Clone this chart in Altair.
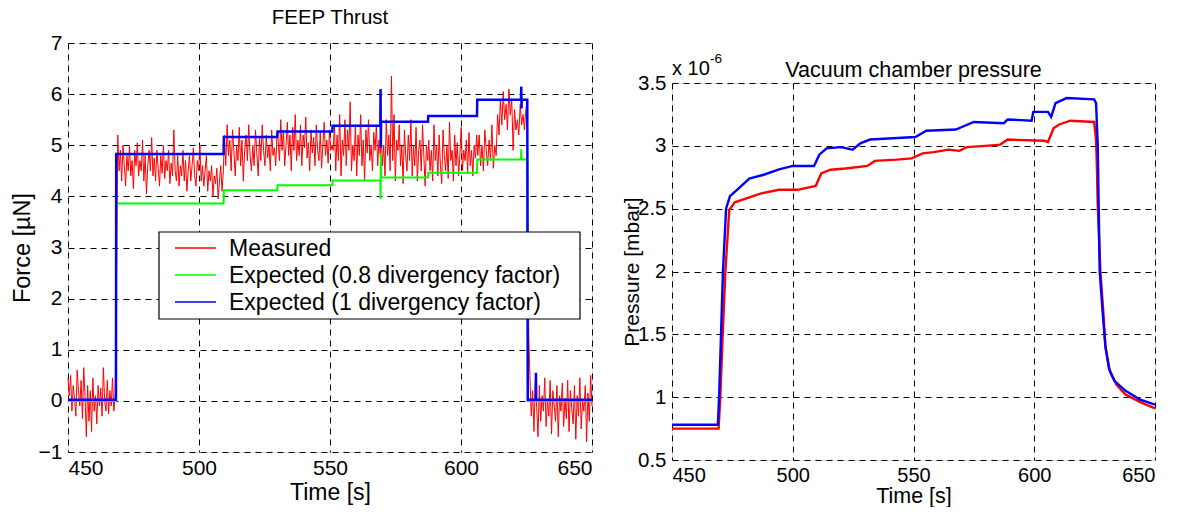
import altair as alt
import numpy as np
import pandas as pd

FONT = "Liberation Sans"

# ---------------- Left panel: FEEP thrust ----------------
thrust_x_ticks = [450, 500, 550, 600, 650]
thrust_y_ticks = [-1, 0, 1, 2, 3, 4, 5, 6, 7]

measured_pre = [0.45, 0.1, 0.5, -0.2, 0.3, 0.05, -0.3, 0.6, 0.2, -0.1, 0.4, -0.35, 0.65, 0.1,
                -0.7, 0.3, -0.4, 0.2, -0.6, 0.45, -0.2, 0.1, -0.45, 0.3, -0.1, 0.25, -0.3, 0.65,
                0.0, -0.2, 0.4, -0.25, 0.2, -0.1, 0.45, -0.2, 0.1]
measured_seg1 = [2.4, 5.2, 4.5, 4.9, 4.3, 5.0, 4.6, 4.2, 4.8, 4.5, 5.0, 4.4, 4.7, 4.15, 4.9, 4.6,
                 5.05, 4.4, 4.7, 4.5, 5.1, 4.3, 4.8, 4.05, 4.6, 4.9, 4.5, 5.15, 4.4, 4.75, 4.3, 4.9,
                 4.55, 4.2, 4.8, 4.45, 5.0, 4.35, 4.7, 4.5, 4.9, 4.25, 4.65, 4.4, 5.3, 4.5, 4.3, 4.8,
                 4.2, 4.6, 4.4, 4.9, 4.3, 4.7, 4.1, 4.5, 4.8, 4.3, 4.6, 4.95, 4.4, 4.2, 4.7, 4.5,
                 5.0, 4.3, 4.6, 4.2, 4.5, 4.8, 4.1, 4.5, 4.3, 4.6, 4.0, 4.4, 4.25, 4.55, 3.95, 4.3,
                 4.6, 4.1, 4.5]
measured_seg2 = [5.2, 4.6, 5.4, 4.8, 5.1, 4.5, 5.3, 4.9, 4.4, 5.0, 4.7, 5.35, 4.6, 5.1, 4.3, 4.9,
                 5.2, 4.7, 5.4, 4.8, 4.5, 5.0, 4.6, 5.3, 4.85, 4.4, 5.15, 4.7, 5.4, 4.9, 4.6, 5.2,
                 4.75, 5.0, 4.5, 5.3, 4.8, 4.95, 4.6, 5.25]
measured_seg3 = [5.1, 4.7, 5.5, 4.9, 5.3, 4.6, 5.0, 5.45, 4.8, 5.2, 4.5, 5.35, 4.9, 5.6, 4.7, 5.1,
                 4.8, 5.4, 4.6, 5.2, 4.95, 5.55, 4.75, 5.05, 4.5, 5.3, 4.85, 5.15, 4.6, 5.4, 4.9,
                 4.7, 5.25, 4.55, 5.0, 5.45, 4.8, 5.1, 4.65, 5.3, 4.9, 5.0]
measured_seg4 = [4.9, 5.4, 4.5, 5.2, 4.7, 5.6, 4.4, 5.1, 4.8, 5.5, 4.6, 5.3, 4.9, 5.85, 4.5, 5.0,
                 4.7, 5.4, 4.4, 5.2, 4.8, 5.6, 4.6, 5.1, 4.3, 5.3, 4.85, 5.5, 4.7, 5.0, 4.5, 5.25,
                 4.9, 5.4, 4.6, 5.1, 4.8]
measured_seg5 = [5.3, 4.6, 5.0, 4.4, 5.5, 4.8, 5.2, 4.5, 6.35, 4.7, 5.6, 4.3, 5.1, 4.9, 5.4, 4.6,
                 5.0, 4.25, 5.3, 4.8, 4.5, 5.2, 4.7, 5.5, 4.4, 5.0, 4.6, 5.35, 4.3, 4.9, 5.1, 4.5,
                 5.4, 4.8, 4.2, 5.0, 4.7]
measured_seg6 = [5.1, 4.5, 4.9, 4.3, 5.4, 4.7, 5.0, 4.4, 5.2, 4.6, 4.25, 5.3, 4.8, 4.5, 5.0, 4.35,
                 5.45, 4.7, 4.9, 4.3, 5.2, 4.6, 5.05, 4.4, 4.8, 5.35, 4.5, 4.9, 4.7, 5.1, 4.45, 5.25,
                 4.6, 4.9, 4.4, 5.0, 4.75, 5.2]
measured_seg7 = [4.8, 5.2, 4.6, 5.0, 4.5, 5.3, 4.9, 4.6, 5.1, 4.7, 5.4, 4.55, 5.0, 4.8, 5.6, 5.2,
                 5.9, 5.4, 6.05, 5.5, 5.8, 5.3, 6.1, 5.6, 5.9, 4.9, 5.7, 5.3, 5.5, 5.2, 5.8, 5.4,
                 5.6, 5.3, 5.7, 5.9]
measured_drop = [3.0, 1.2]
measured_post = [0.5, -0.3, 0.2, -0.6, 0.35, -0.1, -0.7, 0.3, -0.4, 0.1, -0.2, 0.45, -0.5, 0.0,
                 -0.3, 0.4, -0.65, 0.2, -0.1, -0.4, 0.3, -0.7, 0.1, -0.2, 0.35, -0.5, 0.05, -0.35,
                 0.4, -0.6, 0.2, -0.15, -0.45, 0.3, -0.75, 0.1, -0.3, 0.45, -0.55, 0.0, -0.2, 0.3,
                 -0.8, 0.15, -0.4, 0.5, -0.1]
measured_segments = [
    (450.0, 468.0, measured_pre),
    (468.5, 509.3, measured_seg1),
    (509.7, 529.8, measured_seg2),
    (530.2, 550.8, measured_seg3),
    (551.2, 569.2, measured_seg4),
    (569.5, 587.3, measured_seg5),
    (587.7, 606.0, measured_seg6),
    (606.4, 625.3, measured_seg7),
    (625.5, 625.9, measured_drop),
    (626.3, 650.0, measured_post),
]

exp08_t = [450, 468.3, 468.4, 509.4, 509.5, 529.9, 530.0, 550.9, 551.0, 569.2, 569.3, 569.4,
           569.5, 587.4, 587.5, 606.1, 606.2, 622.9, 623.0, 623.1, 625.3, 625.5, 650]
exp08_v = [0.0, 0.0, 3.86, 3.86, 4.12, 4.12, 4.22, 4.22, 4.31, 4.31, 3.95, 4.85,
           4.37, 4.37, 4.46, 4.46, 4.72, 4.72, 4.92, 4.72, 4.72, 0.0, 0.0]

exp1_t = [450, 468.3, 468.4, 509.4, 509.5, 529.9, 530.0, 550.9, 551.0, 569.2, 569.3, 569.4,
          569.5, 587.4, 587.5, 606.1, 606.2, 622.9, 623.0, 623.1, 623.2, 625.3, 625.5, 628.5,
          628.6, 628.7, 650]
exp1_v = [0.02, 0.02, 4.83, 4.83, 5.16, 5.16, 5.27, 5.27, 5.38, 5.38, 6.1, 4.95,
          5.46, 5.46, 5.57, 5.57, 5.89, 5.89, 6.15, 5.72, 5.89, 5.89, 0.02, 0.02,
          0.55, 0.02, 0.02]

legend_labels = ["Measured", "Expected (0.8 divergency factor)", "Expected (1 divergency factor)"]
legend_colors = ["#ff0000", "#00ff00", "#0000ff"]

# ---------------- Right panel: chamber pressure (x 1e-6 mbar) ----------------
press_x_ticks = [450, 500, 550, 600, 650]
press_y_ticks = [0.5, 1, 1.5, 2, 2.5, 3, 3.5]

press_blue_t = [450, 455, 460, 465, 469.0, 469.5, 470.3, 471.1, 472.4, 474, 477.5, 482, 488, 494,
                500, 508.8, 511, 514, 520, 524.8, 528, 532, 541.6, 550.8, 555.3, 567.6, 570, 575,
                587.4, 589, 598.9, 599.6, 605.7, 607, 608.8, 613.4, 624.8, 625.6, 626.3, 627.1,
                628.3, 629.4, 630.9, 633.2, 637.8, 643.9, 650]
press_blue_v = [0.78, 0.78, 0.78, 0.78, 0.78, 1.0, 1.5, 2.0, 2.5, 2.6, 2.66, 2.74, 2.77, 2.81,
                2.84, 2.84, 2.93, 2.98, 2.99, 2.97, 3.02, 3.05, 3.06, 3.07, 3.12, 3.13, 3.15, 3.19,
                3.18, 3.21, 3.2, 3.27, 3.27, 3.23, 3.34, 3.38, 3.37, 3.34, 3.0, 2.0,
                1.68, 1.42, 1.23, 1.13, 1.05, 0.98, 0.94]
press_red_t = [450, 455, 460, 465, 469.3, 470, 471, 472.1, 473.7, 476, 480.5, 486.6, 494.3, 501.9,
               509.5, 511.8, 515.6, 521.8, 530.9, 534, 543, 549.2, 553.8, 558.4, 564.5, 569, 572.1,
               579.8, 585.9, 589, 604.2, 605.7, 608, 610.3, 614.9, 624.8, 625.6, 625.9, 626.3,
               627.4, 628.6, 629.5, 631.4, 634, 637.8, 643.9, 650]
press_red_v = [0.75, 0.75, 0.75, 0.75, 0.75, 1.0, 1.5, 2.0, 2.49, 2.55, 2.58, 2.62, 2.65, 2.65,
               2.68, 2.78, 2.81, 2.82, 2.84, 2.88, 2.89, 2.9, 2.94, 2.95, 2.97, 2.96, 2.99,
               3.0, 3.01, 3.05, 3.04, 3.03, 3.14, 3.17, 3.2, 3.19, 3.05, 2.86, 2.52,
               2.0, 1.68, 1.39, 1.2, 1.1, 1.02, 0.96, 0.91]

# ---------------- data frames ----------------
mt, mv = [], []
for t0, t1, vals in measured_segments:
    mt.extend(np.linspace(t0, t1, len(vals)).tolist())
    mv.extend(vals)
df_meas = pd.DataFrame({"t": mt, "v": mv})
df_e08 = pd.DataFrame({"t": exp08_t, "v": exp08_v})
df_e1 = pd.DataFrame({"t": exp1_t, "v": exp1_v})
df_pb = pd.DataFrame({"t": press_blue_t, "v": press_blue_v})
df_pr = pd.DataFrame({"t": press_red_t, "v": press_red_v})
one = pd.DataFrame({"k": [0]})

LW, LH = 524, 409
RW, RH = 483, 377


def x_axis(values, fs, title_fs, title_y):
    return alt.Axis(values=values, title="Time [s]", grid=True, gridDash=[6, 5], gridColor="#000",
                    gridWidth=1, ticks=False, domain=False, labelFont=FONT, labelFontSize=fs,
                    labelColor="black", labelPadding=5, titleFont=FONT, titleFontSize=title_fs,
                    titleFontWeight="normal", titleColor="black", titleY=title_y,
                    titleBaseline="alphabetic", format="d")


def y_axis(values, title, fs, title_fs, title_x):
    return alt.Axis(values=values, title=title, grid=True, gridDash=[6, 5], gridColor="#000",
                    gridWidth=1, ticks=False, domain=False, labelFont=FONT, labelFontSize=fs,
                    labelColor="black", labelPadding=6, titleFont=FONT, titleFontSize=title_fs,
                    titleFontWeight="normal", titleColor="black", titleX=title_x,
                    titleBaseline="alphabetic", format="~g")


lx = alt.X("t:Q", scale=alt.Scale(domain=[450, 650], nice=False, zero=False),
           axis=x_axis(thrust_x_ticks, 21, 23, 47))
ly = alt.Y("v:Q", scale=alt.Scale(domain=[-1, 7], nice=False, zero=False),
           axis=y_axis(thrust_y_ticks, "Force [µN]", 21, 23.5, -39))

red_l = alt.Chart(df_meas).mark_line(color="#ff0000", strokeWidth=1).encode(x=lx, y=ly)
green_l = alt.Chart(df_e08).mark_line(color="#00ff00", strokeWidth=2).encode(x="t:Q", y="v:Q")
blue_l = alt.Chart(df_e1).mark_line(color="#0000ff", strokeWidth=2.5).encode(x="t:Q", y="v:Q")

leg_box = alt.Chart(one).mark_rect(fill="white", stroke="black", strokeWidth=1.2).encode(
    x=alt.value(91), x2=alt.value(512), y=alt.value(189), y2=alt.value(276))
leg_layers = [leg_box]
for i, (lab, col) in enumerate(zip(legend_labels, legend_colors)):
    yy = 205 + 27 * i
    leg_layers.append(alt.Chart(one).mark_rule(color=col, strokeWidth=1.5).encode(
        x=alt.value(107), x2=alt.value(148), y=alt.value(yy)))
    leg_layers.append(alt.Chart(one).mark_text(text=lab, font=FONT, fontSize=23, align="left",
                                               baseline="middle", color="black").encode(
        x=alt.value(161), y=alt.value(yy + 1)))

left_title = alt.Chart(one).mark_text(text="FEEP Thrust", font=FONT, fontSize=20.5, align="center",
                                      baseline="alphabetic", color="black").encode(
    x=alt.value(LW / 2), y=alt.value(-19))

left = alt.layer(red_l, green_l, blue_l, *leg_layers, left_title).properties(width=LW, height=LH)

rx = alt.X("t:Q", scale=alt.Scale(domain=[450, 650], nice=False, zero=False),
           axis=x_axis(press_x_ticks, 20, 21.5, 42))
ry = alt.Y("v:Q", scale=alt.Scale(domain=[0.5, 3.5], nice=False, zero=False),
           axis=y_axis(press_y_ticks, "Pressure [mbar]", 20.5, 21, -34))

pr_l = alt.Chart(df_pr).mark_line(color="#ff0000", strokeWidth=2.4).encode(x=rx, y=ry)
pb_l = alt.Chart(df_pb).mark_line(color="#0000ff", strokeWidth=2.4).encode(x="t:Q", y="v:Q")

exp_base = alt.Chart(one).mark_text(text="x 10", font=FONT, fontSize=20, align="left",
                                    baseline="alphabetic", color="black").encode(
    x=alt.value(0), y=alt.value(-8))
exp_sup = alt.Chart(one).mark_text(text="-6", font=FONT, fontSize=13.5, align="left",
                                   baseline="alphabetic", color="black").encode(
    x=alt.value(38), y=alt.value(-20))
right_title = alt.Chart(one).mark_text(text="Vacuum chamber pressure", font=FONT, fontSize=21.5,
                                       align="center", baseline="alphabetic", color="black").encode(
    x=alt.value(RW / 2), y=alt.value(-6))

right = alt.layer(pr_l, pb_l, exp_base, exp_sup, right_title).properties(width=RW, height=RH)

# empty block above the right panel so that its plot sits lower than the left one
spacer = alt.Chart(one).mark_point(opacity=0).encode(
    x=alt.value(0), y=alt.value(0)).properties(
    width=RW, height=7, view=alt.ViewConfig(stroke="transparent"))

right_col = alt.vconcat(spacer, right, spacing=0)

chart = alt.hconcat(left, right_col, spacing=22).properties(
    padding={"left": 9, "top": 7, "right": 0, "bottom": 0}
).configure_view(stroke="black", strokeWidth=1.2).configure(background="white")

chart.save("out.html", embed_options={"renderer": "svg", "actions": False})
